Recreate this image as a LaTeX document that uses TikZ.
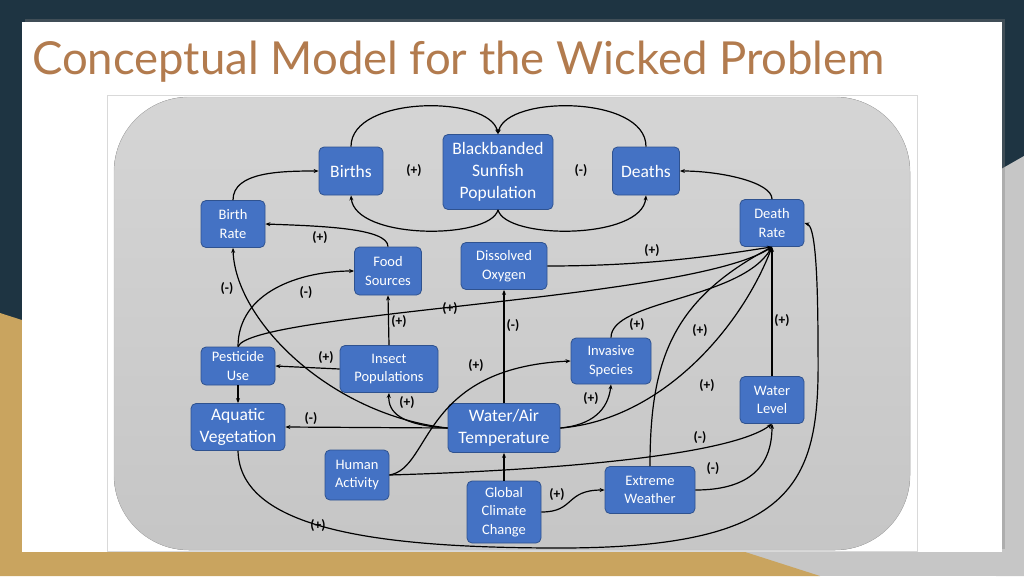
\documentclass[tikz,border=0pt]{standalone}
\usepackage{fontspec}
\setmainfont{Carlito}
\newfontfamily\titlefont{Lato}
\usetikzlibrary{arrows.meta,shadows}
\definecolor{navy}{HTML}{1E3442}
\definecolor{gold}{HTML}{C9A45F}
\definecolor{boxblue}{HTML}{4472C4}
\definecolor{boxedge}{HTML}{2F528F}
\definecolor{titlec}{HTML}{B27B4E}
\begin{document}
\begin{tikzpicture}[x=1pt,y=-1pt,
  box/.style={draw=boxedge,line width=0.8pt,fill=boxblue,rounded corners=5pt,text=white,align=center,inner sep=2pt,font=\fontsize{14.5}{18.5}\selectfont},
  bigbox/.style={box,font=\fontsize{17.5}{22}\selectfont},
  lab/.style={font=\bfseries\fontsize{13.5}{15}\selectfont,inner sep=1pt},
  arr/.style={line width=1.2pt,-{Stealth[length=5pt,width=4pt]}},
  ln/.style={line width=1.2pt}]
\useasboundingbox (0,0) rectangle (1024,576);
\fill[navy] (0,0) rectangle (1024,576);
\fill[gray!45] (1024,156) -- (996,172) -- (996,576) -- (1024,576) -- cycle;
\fill[gray!45] (700,552) rectangle (1024,576);
\fill[gold] (0,313) -- (820,576) -- (0,576) -- cycle;
\fill[white, drop shadow={opacity=0.35,shadow xshift=3pt,shadow yshift=3pt}] (22,22) rectangle (1002,552);
\node[anchor=base west,text=titlec,font=\titlefont\fontsize{45.5}{50}\selectfont,inner sep=0pt] (title) at (32,74) {Conceptual Model for the Wicked Problem};
\draw[gray!30,fill=white] (107,95) rectangle (917,551);
\fill[top color=gray!33,bottom color=gray!45,rounded corners=75pt] (114,97) rectangle (910,550);
\draw[gray!55,rounded corners=75pt] (114,97) rectangle (910,550);

\node[bigbox,minimum width=64pt,minimum height=48pt] (births) at (351,171) {Births};
\node[bigbox,minimum width=110pt,minimum height=75pt] (bsp) at (498,172) {Blackbanded\\Sunfish\\Population};
\node[bigbox,minimum width=67pt,minimum height=48pt] (deaths) at (646,171) {Deaths};
\node[box,minimum width=64pt,minimum height=47pt] (br) at (233,224) {Birth\\Rate};
\node[box,minimum width=64pt,minimum height=47pt] (dr) at (772,223) {Death\\Rate};
\node[box,minimum width=67pt,minimum height=48pt] (fs) at (388,271) {Food\\Sources};
\node[box,minimum width=86pt,minimum height=47pt] (do) at (504,266) {Dissolved\\Oxygen};
\node[box,minimum width=74pt,minimum height=38pt] (pu) at (238,366) {Pesticide\\Use};
\node[box,minimum width=98pt,minimum height=47pt] (ip) at (389,369) {Insect\\Populations};
\node[box,minimum width=80pt,minimum height=46pt] (is) at (611,361) {Invasive\\Species};
\node[bigbox,minimum width=94pt,minimum height=47pt] (aq) at (238,427) {Aquatic\\Vegetation};
\node[bigbox,minimum width=112pt,minimum height=49pt] (wat) at (504,428) {Water/Air\\Temperature};
\node[box,minimum width=64pt,minimum height=47pt] (wl) at (772,400) {Water\\Level};
\node[box,minimum width=64pt,minimum height=50pt] (ha) at (357,475) {Human\\Activity};
\node[box,minimum width=74pt,minimum height=62pt] (gcc) at (504,512) {Global\\Climate\\Change};
\node[box,minimum width=90pt,minimum height=47pt] (ew) at (650,490) {Extreme\\Weather};

\draw[arr] (births.north) .. controls (351,95) and (490,95) .. (bsp.north);
\draw[arr] (deaths.north) .. controls (646,95) and (506,95) .. (bsp.north);
\draw[arr] (bsp.south) .. controls (490,240) and (355,240) .. (births.south);
\draw[arr] (bsp.south) .. controls (506,240) and (642,240) .. (deaths.south);
\draw[arr] (br.north) .. controls (233,172) and (280,171) .. (births.west);
\draw[arr] (dr.north) .. controls (772,182) and (720,171) .. (deaths.east);
\draw[arr] (fs.north) .. controls (388,228) and (320,226) .. (br.east);
\draw[arr] (pu.north) .. controls (238,292) and (300,271) .. (fs.west);
\draw[arr] (pu.north) .. controls (252,312) and (690,300) .. (dr.south);
\draw[arr] (wat.west) .. controls (330,415) and (235,320) .. (br.south);
\draw[arr] (ip.north) -- (fs.south);
\draw[arr] (ip.west) -- (pu.east);
\draw[arr] (pu.south) -- (aq.north);
\draw[arr] (wat.west) -- (aq.east);
\draw[arr] (wat.west) .. controls (400,425) and (388,412) .. (ip.south);
\draw[arr] (ha.east) .. controls (432,468) and (420,368) .. (is.west);
\draw[arr] (ha.east) .. controls (560,470) and (730,455) .. (wl.south);
\draw[arr] (gcc.north) -- (wat.south);
\draw[arr] (wat.north) -- (do.south);
\draw[arr] (do.east) .. controls (650,266) and (720,255) .. (dr.south);
\draw[arr] (wat.east) .. controls (592,425) and (608,410) .. (is.south);
\draw[arr] (wat.east) .. controls (660,420) and (740,330) .. (dr.south);
\draw[arr] (is.north) .. controls (611,300) and (740,300) .. (dr.south);
\draw[arr] (ew.north) .. controls (650,360) and (672,300) .. (dr.south);
\draw[arr] (wl.north) -- (dr.south);
\draw[arr] (ew.east) .. controls (745,490) and (772,470) .. (wl.south);
\draw[arr] (gcc.east) .. controls (575,512) and (565,490) .. (ew.west);
\draw[arr] (aq.south) .. controls (240,530) and (380,548) .. (560,548) .. controls (800,548) and (820,480) .. (818,350) .. controls (818,260) and (814,226) .. (dr.east);

\node[lab] (l1) at (414,171) {(+)};
\node[lab] (l2) at (581,171) {(-)};
\node[lab] (l3) at (320,238) {(+)};
\node[lab] (l4) at (227,289) {(-)};
\node[lab] (l5) at (306,293) {(-)};
\node[lab] (l6) at (450,309) {(+)};
\node[lab] (l7) at (399,322) {(+)};
\node[lab] (l8) at (513,326) {(-)};
\node[lab] (l9) at (652,251) {(+)};
\node[lab] (l10) at (637,325) {(+)};
\node[lab] (l11) at (700,331) {(+)};
\node[lab] (l12) at (782,321) {(+)};
\node[lab] (l13) at (326,358) {(+)};
\node[lab] (l14) at (476,366) {(+)};
\node[lab] (l15) at (407,403) {(+)};
\node[lab] (l16) at (311,419) {(-)};
\node[lab] (l17) at (591,399) {(+)};
\node[lab] (l18) at (707,386) {(+)};
\node[lab] (l19) at (700,438) {(-)};
\node[lab] (l20) at (713,469) {(-)};
\node[lab] (l21) at (557,495) {(+)};
\node[lab] (l22) at (318,526) {(+)};
\end{tikzpicture}
\end{document}
